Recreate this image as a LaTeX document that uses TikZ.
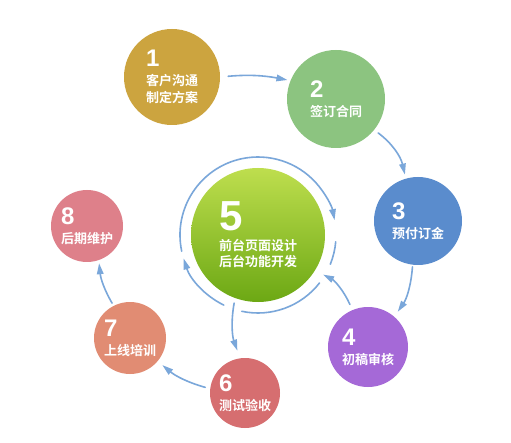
\documentclass[tikz,border=0pt]{standalone}
\usepackage{fontspec}
\usetikzlibrary{arrows.meta}
\newfontfamily\cjk{Noto Sans CJK SC}[BoldFont={Noto Sans CJK SC Bold}]
\newfontfamily\numfont{Liberation Sans}
\definecolor{flowcol}{RGB}{122,167,218}
\definecolor{cone}{RGB}{204,164,63}
\definecolor{ctwo}{RGB}{140,196,128}
\definecolor{cthree}{RGB}{90,140,205}
\definecolor{cfour}{RGB}{165,105,215}
\definecolor{csix}{RGB}{214,110,112}
\definecolor{cseven}{RGB}{225,140,115}
\definecolor{ceight}{RGB}{222,128,138}
\newcommand\stagenum[1]{{\numfont\bfseries\fontsize{24}{24}\selectfont#1}}
\tikzset{
  stage/.style={circle, minimum size=#1, inner sep=0pt, draw=none, text=white, align=left,
    font=\cjk\bfseries\fontsize{13}{17}\selectfont},
  flow/.style={draw=flowcol, line width=1.6pt, -{Triangle[length=11pt,width=6.5pt]}},
  ring/.style={draw=flowcol, line width=1.6pt},
}
\begin{document}
\begin{tikzpicture}[x=1pt, y=1pt, line cap=round]
  \useasboundingbox[fill=white] (0,0) rectangle (511,442);
  % stages
  \node[stage=96, fill=cone]   (s1) at (172,365) {\stagenum{1}\\[2pt]客户沟通\\制定方案};
  \node[stage=98, fill=ctwo]   (s2) at (336,343) {\stagenum{2}\\[2pt]签订合同};
  \node[stage=88, fill=cthree] (s3) at (418,221) {\stagenum{3}\\[2pt]预付订金};
  \node[stage=80, fill=cfour]  (s4) at (368,95)  {\stagenum{4}\\[2pt]初稿审核};
  \node[stage=134, top color={rgb,255:red,190;green,222;blue,78}, bottom color={rgb,255:red,108;green,168;blue,20},
    font=\cjk\bfseries\fontsize{13}{16}\selectfont] (s5) at (258,207)
    {{\numfont\bfseries\fontsize{42}{42}\selectfont 5}\\[4pt]前台页面设计\\后台功能开发};
  \node[stage=70, fill=csix]   (s6) at (245,49)  {\stagenum{6}\\[2pt]测试验收};
  \node[stage=72, fill=cseven] (s7) at (130,104) {\stagenum{7}\\[2pt]上线培训};
  \node[stage=72, fill=ceight] (s8) at (87,216)  {\stagenum{8}\\[2pt]后期维护};
  % outer flow
  \draw[flow, shorten <=8pt, shorten >=3pt] (s1.0) to[bend left=8] (s2.158);
  \draw[flow, shorten <=5pt, shorten >=4pt] (s2.-39) to[bend left=20] (s3.106);
  \draw[flow, shorten <=2pt, shorten >=6pt] (s3.-97) to[bend left=15] (s4.49);
  \draw[flow, shorten <=6pt, shorten >=9pt] (s4.113) to[bend right=20] (s5.-32);
  \draw[flow, shorten <=5pt, shorten >=8pt] (s5.-110) to[bend right=15] (s6.98);
  \draw[flow, shorten <=5pt, shorten >=6pt] (s6.173) to[bend left=12] (s7.-40);
  \draw[flow, shorten <=3pt, shorten >=3pt] (s7.117) to[bend left=12] (s8.-71);
  % ring round the centre
  \draw[flow] ([shift={(192:78)}]s5.center) arc[start angle=192, end angle=11, radius=78];
  \draw[ring] ([shift={(-5:78)}]s5.center) arc[start angle=-5, end angle=-22, radius=78];
  \draw[ring] ([shift={(-38:78)}]s5.center) arc[start angle=-38, end angle=-102, radius=78];
  \draw[flow] ([shift={(-116:78)}]s5.center) arc[start angle=-116, end angle=-162.5, radius=78];
\end{tikzpicture}
\end{document}
